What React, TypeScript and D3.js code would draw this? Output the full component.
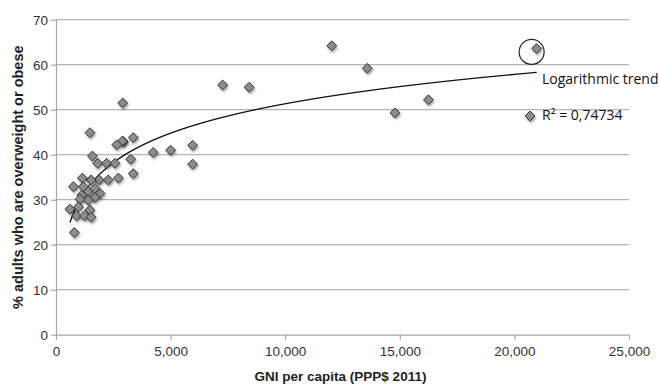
import React, { useRef, useEffect } from "react";
import * as d3 from "d3";

// GNI per capita (PPP$ 2011) and % adults overweight or obese
const gni = [
  20970, 20680, 12030, 13580, 7270, 8430, 14790, 16250, 5960, 5960,
  3370, 2940, 3260, 3370, 4240, 5000, 2910, 1480, 2890, 2650,
  1590, 1820, 2210, 2570, 2720, 2280, 1880, 1530, 1150, 760,
  1190, 1410, 1700, 1920, 1120, 1050, 1700, 1410, 610, 980,
  1480, 900, 1240, 1530, 800,
];
const overweight = [
  63.6, 48.6, 64.2, 59.2, 55.5, 55.0, 49.3, 52.2, 42.1, 37.9,
  43.8, 42.9, 39.0, 35.8, 40.5, 41.0, 51.5, 44.9, 43.0, 42.2,
  39.7, 38.1, 38.1, 38.1, 34.8, 34.4, 34.4, 34.4, 34.8, 32.9,
  32.9, 31.8, 32.5, 31.4, 31.0, 30.1, 30.5, 29.9, 27.9, 28.4,
  27.7, 26.4, 26.4, 26.1, 22.7,
];
const xTicks = [0, 5000, 10000, 15000, 20000, 25000];
const yTicks = [0, 10, 20, 30, 40, 50, 60, 70];
const trendLabel = "Logarithmic trend";
const r2Label = "R² = 0,74734";
const xTitle = "GNI per capita (PPP$ 2011)";
const yTitle = "% adults who are overweight or obese";

const App = () => {
  const svgRef = useRef<SVGSVGElement>(null);

  useEffect(() => {
    const svg = d3.select(svgRef.current);
    svg.selectAll("*").remove();

    const width = 659;
    const height = 384;
    const left = 56;
    const right = 629;
    const top = 19.7;
    const bottom = 334.7;

    const x = d3.scaleLinear().domain([0, 25000]).range([left, right]);
    const y = d3.scaleLinear().domain([0, 70]).range([bottom, top]);

    const defs = svg.append("defs");
    const filter = defs.append("filter").attr("id", "shadow")
      .attr("x", "-50%").attr("y", "-50%").attr("width", "200%").attr("height", "200%");
    filter.append("feDropShadow")
      .attr("dx", 1).attr("dy", 2).attr("stdDeviation", 1.3)
      .attr("flood-color", "#000").attr("flood-opacity", 0.35);

    // gridlines
    svg.append("g")
      .selectAll("line")
      .data(yTicks.filter(d => d > 0))
      .join("line")
      .attr("x1", left).attr("x2", right)
      .attr("y1", d => y(d)).attr("y2", d => y(d))
      .attr("stroke", "#b4b4b4").attr("stroke-width", 1.2);

    // axes
    const font = "'Liberation Sans', Arial, sans-serif";
    const xAxis = svg.append("g")
      .attr("transform", `translate(0,${bottom})`)
      .call(d3.axisBottom(x).tickValues(xTicks).tickSize(5).tickSizeOuter(0)
        .tickFormat(d => d3.format(",")(d as number)));
    const yAxis = svg.append("g")
      .attr("transform", `translate(${left},0)`)
      .call(d3.axisLeft(y).tickValues(yTicks).tickSize(5).tickSizeOuter(0));
    [xAxis, yAxis].forEach(ax => {
      ax.select(".domain").attr("stroke", "#a8a8a8").attr("stroke-width", 1.2);
      ax.selectAll(".tick line").attr("stroke", "#a8a8a8").attr("stroke-width", 1.2);
      ax.selectAll(".tick text")
        .attr("font-family", font).attr("font-size", 13.5).attr("fill", "#333");
    });
    xAxis.selectAll(".tick text").attr("dy", "0.71em").attr("y", 12);
    yAxis.selectAll(".tick text").attr("x", -8);

    // axis titles
    svg.append("text")
      .attr("x", (left + right) / 2 - 2).attr("y", 381)
      .attr("text-anchor", "middle")
      .attr("font-family", font).attr("font-weight", "bold")
      .attr("font-size", 13.5).attr("fill", "#222")
      .text(xTitle);
    svg.append("text")
      .attr("transform", `translate(23,${(top + bottom) / 2}) rotate(-90)`)
      .attr("text-anchor", "middle")
      .attr("font-family", font).attr("font-weight", "bold")
      .attr("font-size", 14.5).attr("fill", "#222")
      .text(yTitle);

    // logarithmic trend fitted on the points
    const lx = gni.map(v => Math.log(v));
    const mx = d3.mean(lx)!;
    const my = d3.mean(overweight)!;
    const slope = d3.sum(lx, (v, i) => (v - mx) * (overweight[i] - my)) /
      d3.sum(lx, v => (v - mx) ** 2);
    const intercept = my - slope * mx;
    const [minX, maxX] = d3.extent(gni) as [number, number];
    const trendX = d3.range(0, 101).map(i => minX * Math.pow(maxX / minX, i / 100));
    const line = d3.line<number>()
      .x(d => x(d))
      .y(d => y(slope * Math.log(d) + intercept))
      .curve(d3.curveLinear);
    svg.append("path")
      .attr("d", line(trendX))
      .attr("fill", "none").attr("stroke", "#111").attr("stroke-width", 1.3);

    // points
    const diamond = d3.symbol().type(d3.symbolDiamond2).size(62);
    svg.append("g")
      .selectAll("path")
      .data(gni.map((g, i) => [g, overweight[i]]))
      .join("path")
      .attr("d", diamond)
      .attr("transform", d => `translate(${x(d[0])},${y(d[1])})`)
      .attr("fill", "#8c8c8c")
      .attr("stroke", "#333")
      .attr("stroke-width", 1)
      .attr("filter", "url(#shadow)");

    // annotations
    const top1 = 0;
    svg.append("circle")
      .attr("cx", x(gni[top1]) - 5).attr("cy", y(overweight[top1]) + 3.4)
      .attr("r", 12.5)
      .attr("fill", "none").attr("stroke", "#222").attr("stroke-width", 1.2);
    const annoFont = "'Open Sans', 'Noto Sans', sans-serif";
    svg.append("text")
      .attr("x", 542).attr("y", 84)
      .attr("font-family", annoFont).attr("font-size", 14).attr("fill", "#111")
      .text(trendLabel);
    svg.append("text")
      .attr("x", 542).attr("y", 120)
      .attr("font-family", annoFont).attr("font-size", 14).attr("fill", "#111")
      .text(r2Label);

    svg.attr("width", width).attr("height", height);
  }, []);

  return (
    <svg
      ref={svgRef}
      width={659}
      height={384}
      style={{ position: "absolute", left: 0, top: 0, background: "#fff" }}
    />
  );
};

export default App;
